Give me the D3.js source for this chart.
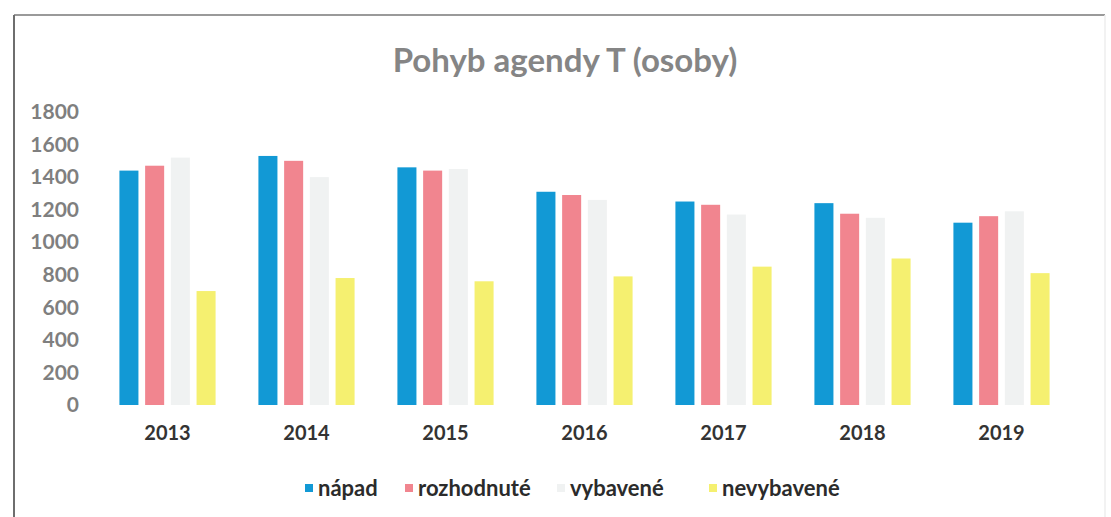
<!DOCTYPE html>
<html>
<head>
<meta charset="utf-8">
<script src="https://cdn.jsdelivr.net/npm/d3@7"></script>
<style>
  body { margin: 0; background: #fff; }
  text { font-family: Lato, "Open Sans", sans-serif; font-weight: bold; }
</style>
</head>
<body>
<div id="chart"></div>
<script>
// data
var years = ["2013", "2014", "2015", "2016", "2017", "2018", "2019"];
var seriesNames = ["nápad", "rozhodnuté", "vybavené", "nevybavené"];
var napad = [1440, 1530, 1460, 1310, 1250, 1240, 1120];
var rozhodnute = [1470, 1500, 1440, 1290, 1230, 1175, 1160];
var vybavene = [1520, 1400, 1450, 1260, 1170, 1150, 1190];
var nevybavene = [700, 780, 760, 790, 850, 900, 810];
var yTicks = [0, 200, 400, 600, 800, 1000, 1200, 1400, 1600, 1800];
var colors = ["#1299d5", "#f1858f", "#f0f2f2", "#f5f070"];

var allSeries = [napad, rozhodnute, vybavene, nevybavene];

var width = 1111, height = 517;

var svg = d3.select("#chart")
	.append("svg")
	.attr("width", width)
	.attr("height", height);

// frame of the scanned chart
svg.append("line").attr("x1", 14).attr("y1", 15).attr("x2", 1105).attr("y2", 15)
	.attr("stroke", "#9a9a9a").attr("stroke-width", 2);
svg.append("line").attr("x1", 14).attr("y1", 15).attr("x2", 14).attr("y2", height)
	.attr("stroke", "#6e6e6e").attr("stroke-width", 2);
svg.append("line").attr("x1", 1105).attr("y1", 15).attr("x2", 1105).attr("y2", height)
	.attr("stroke", "#eeeeee").attr("stroke-width", 1.5);

// title
svg.append("text")
	.attr("x", 565)
	.attr("y", 72)
	.attr("text-anchor", "middle")
	.attr("fill", "#858585")
	.style("font-size", "33px")
	.text("Pohyb agendy T (osoby)");

// scales
var x0 = d3.scaleBand()
	.domain(years)
	.range([98, 1071])
	.paddingInner(0.26)
	.paddingOuter(0.13);

var x1 = d3.scaleBand()
	.domain(d3.range(seriesNames.length))
	.range([0, x0.bandwidth()])
	.paddingInner(0.26)
	.paddingOuter(0.13);

var y = d3.scaleLinear()
	.domain([0, 1800])
	.range([405, 112]);

// y axis (labels only)
var yAxis = svg.append("g")
	.attr("transform", "translate(79,0)")
	.call(d3.axisLeft(y).tickValues(yTicks).tickFormat(d3.format("d")).tickSize(0).tickPadding(0));
yAxis.select(".domain").remove();
yAxis.selectAll("text")
	.attr("fill", "#7f7f7f")
	.style("font-size", "21px")
	.style("font-family", "Lato, sans-serif");

// x axis (labels only)
var xAxis = svg.append("g")
	.attr("transform", "translate(0,425)")
	.call(d3.axisBottom(x0).tickSize(0).tickPadding(0));
xAxis.select(".domain").remove();
xAxis.selectAll("text")
	.attr("dy", "0.75em")
	.attr("fill", "#333333")
	.style("font-size", "20px")
	.style("font-family", "Lato, sans-serif");

// bars
var groups = svg.selectAll(".year")
	.data(years)
	.enter()
	.append("g")
	.attr("class", "year")
	.attr("transform", function (d) { return "translate(" + x0(d) + ",0)"; });

groups.selectAll("rect")
	.data(function (d, i) {
		return allSeries.map(function (s, k) { return { k: k, value: s[i] }; });
	})
	.enter()
	.append("rect")
	.attr("x", function (d) { return x1(d.k); })
	.attr("y", function (d) { return y(d.value); })
	.attr("width", x1.bandwidth())
	.attr("height", function (d) { return y(0) - y(d.value); })
	.attr("fill", function (d) { return colors[d.k]; });

// legend
var legendX = [305, 405, 557, 709];
var legend = svg.selectAll(".legend")
	.data(seriesNames)
	.enter()
	.append("g")
	.attr("class", "legend")
	.attr("transform", function (d, i) { return "translate(" + legendX[i] + ",488)"; });

legend.append("rect")
	.attr("x", 0)
	.attr("y", -4)
	.attr("width", 8)
	.attr("height", 8)
	.attr("fill", function (d, i) { return colors[i]; });

legend.append("text")
	.attr("x", 13)
	.attr("y", 0)
	.attr("dy", "0.35em")
	.attr("fill", "#2b2b2b")
	.style("font-size", "22px")
	.text(function (d) { return d; });
</script>
</body>
</html>
